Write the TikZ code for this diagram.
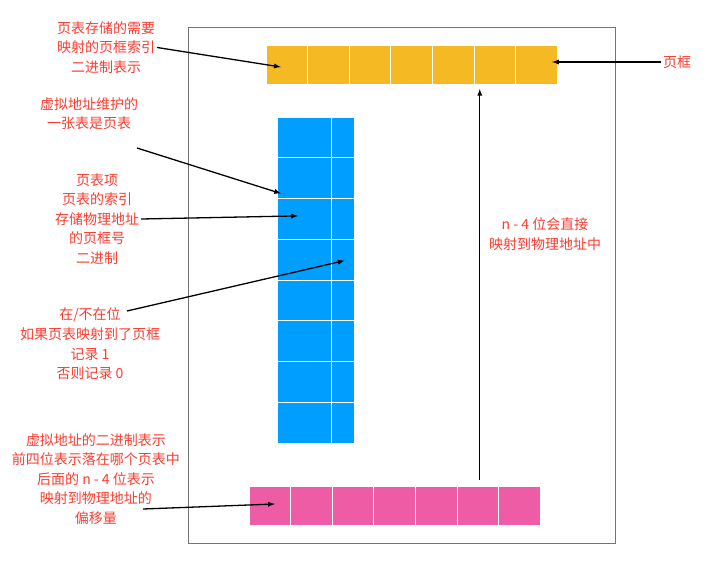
\documentclass[tikz,border=0pt]{standalone}
\usepackage{fontspec}
\setmainfont{Noto Sans CJK SC}
\usepackage{tikz}
\usetikzlibrary{arrows, positioning, calc}
\definecolor{frameyellow}{RGB}{245,186,35}
\definecolor{tableblue}{RGB}{0,158,255}
\definecolor{addrpink}{RGB}{237,92,165}
\definecolor{notered}{RGB}{250,60,48}

\begin{document}
\begin{tikzpicture}[x=1pt, y=-1pt, node distance=0pt,
    cell/.style={rectangle, draw=white, line width=0.8pt, inner sep=0pt, outer sep=0pt, minimum height=39pt},
    note/.style={text=notered, align=center, font=\fontsize{14}{19.6}\selectfont, inner sep=2pt},
    link/.style={line width=1.3pt}]
            \useasboundingbox (0,0) rectangle (710,560);
            \node[draw=black!55, line width=0.8pt, inner sep=0pt, minimum width=427pt, minimum height=516pt] (frame) at (401.5,285) {};
            % page frames
            \foreach \i in {1,...,7}
                \node[cell, fill=frameyellow, minimum width=41.6pt] (y\i) at ({266+41.6*(\i-0.5)},64.5) {};
            % page table
            \foreach \i in {1,...,8} {
                \node[cell, fill=tableblue, minimum width=54pt, minimum height=40.75pt] (b\i) at (304,{117+40.75*(\i-0.5)}) {};
                \node[cell, fill=tableblue, minimum width=23pt, minimum height=40.75pt, right=of b\i] (bb\i) {};
            }
            % virtual address
            \foreach \i in {1,...,7}
                \node[cell, fill=addrpink, minimum width=41.6pt] (p\i) at ({249+41.6*(\i-0.5)},505.5) {};

            \node[note] (pte) at (106,47.5) {页表存储的需要\\映射的页框索引\\二进制表示};
            \node[note] (pt) at (89,113.5) {虚拟地址维护的\\一张表是页表};
            \node[note] (entry) at (97,219) {页表项\\页表的索引\\存储物理地址\\的页框号\\二进制};
            \node[note] (valid) at (90,344) {在/不在位\\如果页表映射到了页框\\记录 1\\否则记录 0};
            \node[note] (vaddr) at (96,479) {虚拟地址的二进制表示\\前四位表示落在哪个页表中\\后面的 n - 4 位表示\\映射到物理地址的\\偏移量};
            \node[note] (frm) at (677,62) {页框};
            \node[note] (direct) at (545,234) {n - 4 位会直接\\映射到物理地址中};

            \coordinate (pt-from) at (137,148);
            \coordinate (valid-from) at (127,311);
            \coordinate (vaddr-from) at (143,509);
            \coordinate (up-from) at ($(p6.north)+(2,-6)$);
            \coordinate (up-to) at (up-from |- y6.south);

            \path[-latex] (pte.east) edge [link] ($(y1.center)+(-6,2.5)$);
            \path[-latex] (frm.west) edge [link] ($(y7.east)+(-5,-2.5)$);
            \path[-latex] (up-from) edge [link, shorten >=5pt] (up-to);
            \path[-latex] (pt-from) edge [link] ($(b2.south west)+(4,-5)$);
            \path[-latex] (entry.east) edge [link] ($(b3.center)+(-6,-3)$);
            \path[-latex] (valid-from) edge [link] ($(bb4.center)+(2,1)$);
            \path[-latex] (vaddr-from) edge [link] ($(p1.center)+(5,-1.5)$);
        \end{tikzpicture}
\end{document}
